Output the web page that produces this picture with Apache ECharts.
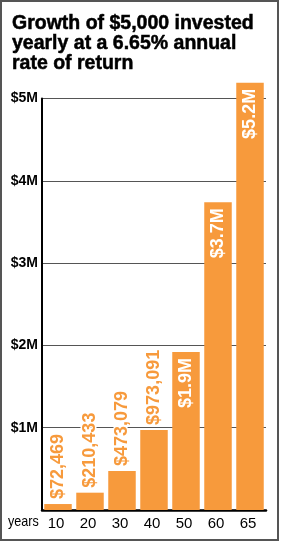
<!DOCTYPE html>
<html>
<head>
<meta charset="utf-8">
<script src="https://cdn.jsdelivr.net/npm/echarts@6/dist/echarts.min.js"></script>
<style>html,body{margin:0;padding:0;background:#fff}#c{width:284px;height:544px}</style>
</head>
<body>
<div id="c"></div>
<script>
const titleLines = ['Growth of $5,000 invested', 'yearly at a 6.65% annual', 'rate of return'];
const years = ['10', '20', '30', '40', '50', '60', '65'];
const values = [72469, 210433, 473079, 973091, 1920000, 3740000, 5190000];
const valueLabels = ['$72,469', '$210,433', '$473,079', '$973,091', '$1.9M', '$3.7M', '$5.2M'];
const insideFrom = 4; // labels from this index on are drawn inside the bar
const yTicks = [0, 1000000, 2000000, 3000000, 4000000, 5000000];
const yTickLabels = ['', '$1M', '$2M', '$3M', '$4M', '$5M'];

const ORANGE = '#f79a3c';
const chart = echarts.init(document.getElementById('c'), null, {renderer: 'canvas'});

const data = values.map((v, i) => {
  const inside = i >= insideFrom;
  return {
    value: v,
    label: inside ? {
      show: true, formatter: valueLabels[i], position: 'insideTop', rotate: 90,
      align: 'right', verticalAlign: 'middle', distance: 6,
      color: '#fff', fontFamily: 'Liberation Sans', fontWeight: 'bold', fontSize: 18
    } : {
      show: true, formatter: valueLabels[i], position: 'top', rotate: 90,
      align: 'left', verticalAlign: 'middle', distance: 5,
      color: ORANGE, fontFamily: 'Liberation Sans', fontWeight: 'bold', fontSize: 18,
      textBorderColor: '#fff', textBorderWidth: 3
    }
  };
});

chart.setOption({
  animation: false,
  backgroundColor: '#fff',
  grid: {left: 42, right: 18, top: 98.5, bottom: 34, containLabel: false},
  xAxis: {
    type: 'category', data: years,
    axisLine: {show: true, lineStyle: {color: '#000', width: 2.5}},
    axisTick: {show: false},
    axisLabel: {color: '#000', fontFamily: 'Liberation Sans', fontSize: 15, margin: 6, padding: [0, 4, 0, 0]}
  },
  yAxis: {
    type: 'value', min: yTicks[0], max: yTicks[yTicks.length - 1], interval: 1000000,
    axisLine: {show: true, lineStyle: {color: '#000', width: 2}},
    axisTick: {show: false},
    splitLine: {show: true, lineStyle: {color: '#555', width: 1}},
    axisLabel: {
      color: '#000', fontFamily: 'Liberation Sans', fontWeight: 'bold', fontSize: 14, margin: 4,
      formatter: v => { const k = yTicks.indexOf(v); return k >= 0 ? yTickLabels[k] : ''; }
    }
  },
  series: [{
    type: 'bar', data: data, barWidth: 27.5, clip: false,
    itemStyle: {color: ORANGE}, z: 3
  }],
  graphic: [
    {type: 'rect', shape: {x: 1, y: 1, width: 277, height: 539},
     style: {fill: 'none', stroke: '#555', lineWidth: 2}, z: 100},
    {type: 'text', x: 12, y: 14, z: 100,
     style: {text: titleLines.join('\n'), fill: '#000', font: 'bold 19.5px "Liberation Sans"',
             lineHeight: 20, verticalAlign: 'top', stroke: '#000', lineWidth: 0.5}},
    {type: 'text', x: 8, y: 522, z: 100, scaleX: 0.84,
     style: {text: 'years', fill: '#000', font: '15px "Liberation Sans"', verticalAlign: 'middle'}}
  ]
});
</script>
</body>
</html>
